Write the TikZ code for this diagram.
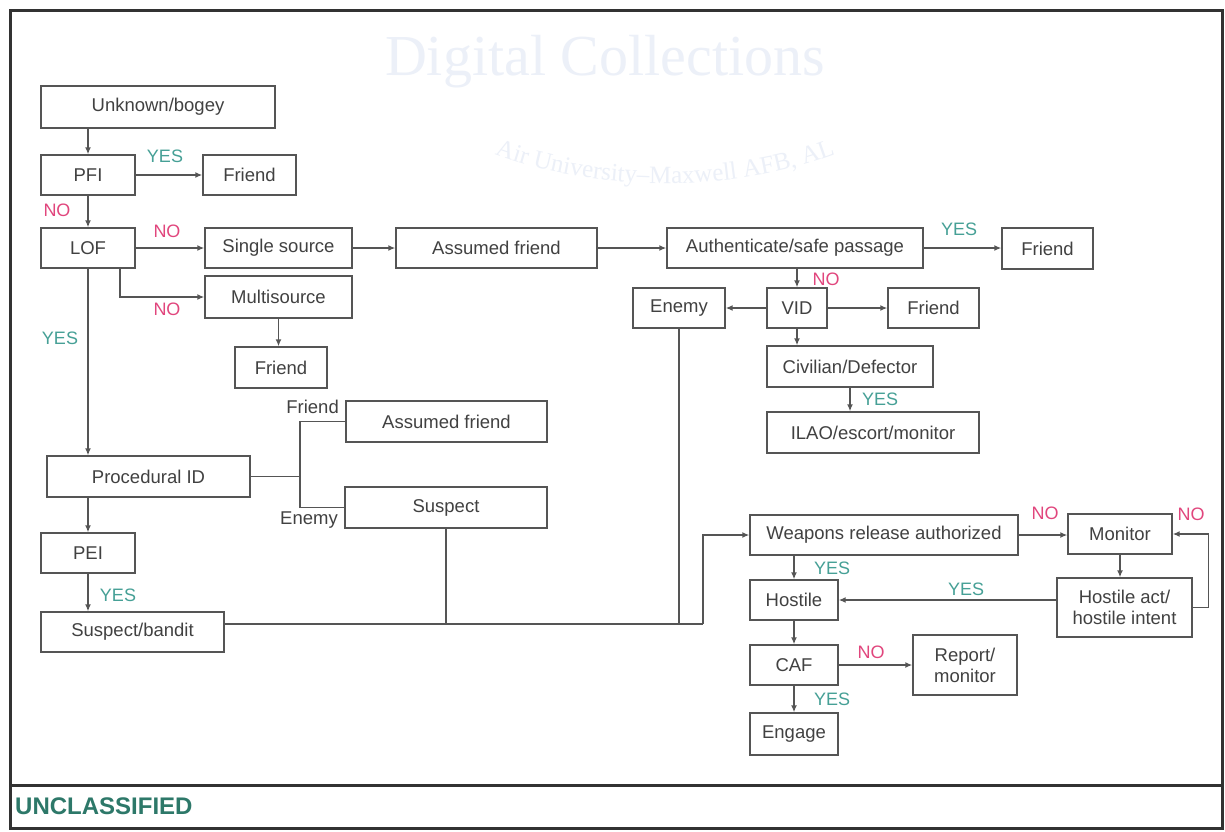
\documentclass[tikz,border=0pt]{standalone}
\usepackage{fontspec}
\setmainfont{Liberation Sans}
\newfontfamily\wmfont{Liberation Serif}
\usetikzlibrary{arrows.meta,decorations.text}
\definecolor{ln}{RGB}{85,85,85}
\definecolor{tx}{RGB}{65,65,65}
\definecolor{yescol}{RGB}{70,160,150}
\definecolor{nocol}{RGB}{225,70,125}
\definecolor{framecol}{RGB}{50,50,50}
\definecolor{uncl}{RGB}{45,120,105}
\definecolor{wm}{RGB}{236,240,248}
\begin{document}
\begin{tikzpicture}[x=1pt,y=-1pt,
 box/.style={draw=ln,line width=1.4pt,rectangle,inner sep=0pt,text=tx,font=\fontsize{18.5}{21}\selectfont,align=center},
 con/.style={draw=ln,line width=1.4pt},
 arr/.style={con,-{Latex[length=7pt,width=6pt]}},
 yes/.style={text=yescol,font=\fontsize{18}{20}\selectfont,inner sep=0pt},
 no/.style={text=nocol,font=\fontsize{18}{20}\selectfont,inner sep=0pt},
 lbl/.style={text=tx,font=\fontsize{18.5}{21}\selectfont,inner sep=0pt}
]
\useasboundingbox (0,0) rectangle (1225,831);
\fill[white] (0,0) rectangle (1225,831);
% watermark
\node[text=wm,font=\wmfont\fontsize{58}{62}\selectfont,inner sep=0pt] (wm1) at (605,62) {Digital Collections};
\path[decorate,decoration={text along path,text align=center,
  text={|\wmfont\fontsize{25}{27}\selectfont\color{wm}|Air University–Maxwell AFB, AL}}]
  (465,142) .. controls (580,197) and (750,197) .. (865,142);
% frame
\draw[framecol,line width=3pt] (10,10) rectangle (1222,828);
\draw[framecol,line width=3pt] (10,785) -- (1222,785);
\node[anchor=west,text=uncl,font=\bfseries\fontsize{24}{26}\selectfont,inner sep=0pt] (uncl) at (15,806) {UNCLASSIFIED};
% boxes
\node[box,minimum width=234pt,minimum height=42pt] (unk) at (158,107) {Unknown/bogey};
\node[box,minimum width=94pt,minimum height=40pt] (pfi) at (88,175) {PFI};
\node[box,minimum width=93pt,minimum height=40pt] (fr1) at (249.5,175) {Friend};
\node[box,minimum width=94pt,minimum height=40pt] (lof) at (88,248) {LOF};
\node[box,minimum width=147pt,minimum height=40pt] (single) at (278.5,248) {Single source};
\node[box,minimum width=201pt,minimum height=40pt] (af1) at (496.5,248) {Assumed friend};
\node[box,minimum width=256pt,minimum height=40pt] (auth) at (795,248) {Authenticate/safe passage};
\node[box,minimum width=91pt,minimum height=41pt] (fr3) at (1047.5,248.5) {Friend};
\node[box,minimum width=147pt,minimum height=42pt] (multi) at (278.5,297) {Multisource};
\node[box,minimum width=92pt,minimum height=41pt] (fr4) at (281,367.5) {Friend};
\node[box,minimum width=92pt,minimum height=40pt] (enemy) at (679,308) {Enemy};
\node[box,minimum width=60pt,minimum height=40pt] (vid) at (797,308) {VID};
\node[box,minimum width=91pt,minimum height=40pt] (fr2) at (933.5,308) {Friend};
\node[box,minimum width=166pt,minimum height=41pt] (civ) at (850,366.5) {Civilian/Defector};
\node[box,minimum width=212pt,minimum height=41pt] (ilao) at (873,432.5) {ILAO/escort/monitor};
\node[box,minimum width=201pt,minimum height=41pt] (af2) at (446.5,421.5) {Assumed friend};
\node[box,minimum width=203pt,minimum height=41pt] (proc) at (148.5,476.5) {Procedural ID};
\node[box,minimum width=202pt,minimum height=41pt] (susp) at (446,507.5) {Suspect};
\node[box,minimum width=94pt,minimum height=40pt] (pei) at (88,553) {PEI};
\node[box,minimum width=183pt,minimum height=40pt] (sb) at (132.5,632) {Suspect/bandit};
\node[box,minimum width=268pt,minimum height=40pt] (wra) at (884,535) {Weapons release authorized};
\node[box,minimum width=104pt,minimum height=40pt] (mon) at (1120,534) {Monitor};
\node[box,minimum width=88pt,minimum height=40pt] (hostile) at (794,600) {Hostile};
\node[box,minimum width=135pt,minimum height=59pt] (hai) at (1124.5,607.5) {Hostile act/\\hostile intent};
\node[box,minimum width=88pt,minimum height=40pt] (caf) at (794,665) {CAF};
\node[box,minimum width=104pt,minimum height=60pt] (rep) at (965,665) {Report/\\monitor};
\node[box,minimum width=88pt,minimum height=42pt] (eng) at (794,734) {Engage};
% junction coordinates
\coordinate (pj) at (300,476.5);
\coordinate (jn) at (703,624);
% connectors
\draw[arr] (unk.south -| pfi.north) -- (pfi.north);
\draw[arr] (pfi.east) -- (fr1.west);
\draw[arr] (pfi.south) -- (lof.north);
\draw[arr] (lof.east) -- (single.west);
\draw[arr] ([xshift=32pt]lof.south) |- (multi.west);
\draw[arr] (multi.south) -- (multi.south |- fr4.north);
\draw[arr] (single.east) -- (af1.west);
\draw[arr] (af1.east) -- (auth.west);
\draw[arr] (auth.east) -- (fr3.west |- auth.east);
\draw[arr] (auth.south -| vid.north) -- (vid.north);
\draw[arr] (vid.west) -- (enemy.east);
\draw[arr] (vid.east) -- (fr2.west);
\draw[arr] (vid.south) -- (vid.south |- civ.north);
\draw[arr] (civ.south) -- (civ.south |- ilao.north);
\draw[arr] (lof.south) -- (lof.south |- proc.north);
\draw[con] (proc.east) -- (pj);
\draw[con] (af2.west) -| (pj);
\draw[con] (susp.west) -| (pj);
\draw[arr] (proc.south -| pei.north) -- (pei.north);
\draw[arr] (pei.south) -- (pei.south |- sb.north);
\draw[con] ([yshift=8pt]sb.east) -- (jn);
\draw[con] (susp.south) -- (susp.south |- jn);
\draw[con] (enemy.south) -- (enemy.south |- jn);
\draw[arr] (jn) |- (wra.west);
\draw[arr] (wra.east) -- (mon.west |- wra.east);
\draw[arr] (wra.south -| hostile.north) -- (hostile.north);
\draw[arr] (mon.south) -- (mon.south |- hai.north);
\draw[arr] (hostile.east -| hai.west) -- (hostile.east);
\draw[arr] (hai.east) -- ++(16,0) |- (mon.east);
\draw[arr] (hostile.south) -- (caf.north);
\draw[arr] (caf.east) -- (rep.west);
\draw[arr] (caf.south) -- (eng.north);
% labels
\node[yes] (y1) at (165,156) {YES};
\node[no] (n1) at (57,210) {NO};
\node[no] (n2) at (167,231) {NO};
\node[no] (n3) at (167,309) {NO};
\node[yes] (y2) at (60,338) {YES};
\node[yes] (y3) at (959,229) {YES};
\node[no] (n4) at (826,279) {NO};
\node[yes] (y4) at (880,399) {YES};
\node[lbl,anchor=east] (lf) at (339,407) {Friend};
\node[lbl,anchor=east] (le) at (338,520) {Enemy};
\node[yes] (y5) at (118,595) {YES};
\node[no] (n5) at (1045,513) {NO};
\node[no] (n6) at (1191,514) {NO};
\node[yes] (y6) at (832,568) {YES};
\node[yes] (y7) at (966,589) {YES};
\node[no] (n7) at (871,652) {NO};
\node[yes] (y8) at (832,699) {YES};
\end{tikzpicture}
\end{document}
